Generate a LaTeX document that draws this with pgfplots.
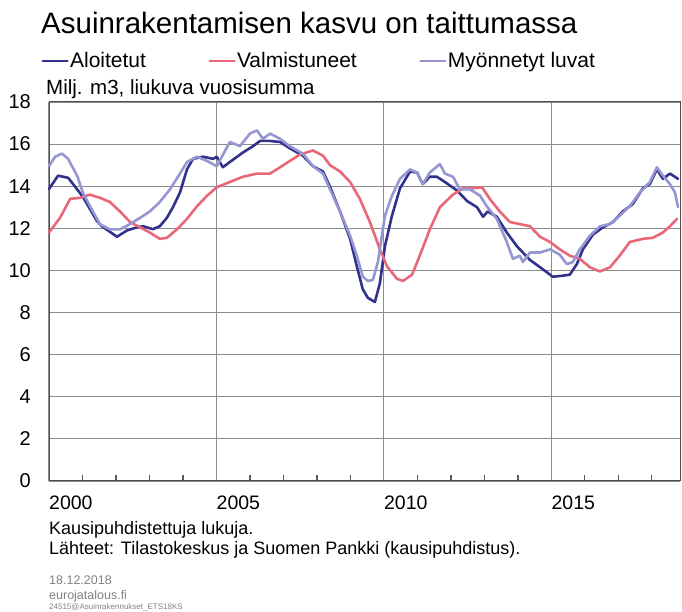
\documentclass[border=0pt]{standalone}
\usepackage{fontspec}
\setmainfont{Liberation Sans}
\usepackage{pgfplots}
\pgfplotsset{compat=1.18}
\definecolor{aloit}{RGB}{50,50,140}
\definecolor{valm}{RGB}{232,104,122}
\definecolor{myon}{RGB}{150,150,210}
\definecolor{gridc}{RGB}{140,140,140}
\definecolor{foot}{RGB}{130,130,130}

\pgfplotstableread{
x y
2000.00 13.87
2000.27 14.5
2000.57 14.4
2000.72 14.1
2001.01 13.5
2001.43 12.35
2001.58 12.1
2002.03 11.6
2002.33 11.9
2002.63 12.05
2002.81 12.1
2003.10 11.96
2003.31 12.1
2003.52 12.5
2003.70 13.0
2003.91 13.7
2004.12 14.8
2004.30 15.3
2004.60 15.4
2004.90 15.3
2005.01 15.4
2005.19 14.9
2005.40 15.15
2005.79 15.6
2006.09 15.9
2006.30 16.15
2006.60 16.15
2006.90 16.1
2007.19 15.8
2007.58 15.45
2007.88 14.95
2008.18 14.7
2008.39 13.97
2008.69 12.8
2008.99 11.5
2009.19 10.2
2009.37 9.1
2009.52 8.7
2009.73 8.5
2009.88 9.4
2010.03 11.15
2010.24 12.6
2010.48 13.9
2010.78 14.7
2010.99 14.65
2011.16 14.1
2011.37 14.45
2011.58 14.45
2011.82 14.2
2012.18 13.8
2012.48 13.3
2012.78 13.0
2012.96 12.55
2013.10 12.8
2013.37 12.55
2013.67 11.8
2013.97 11.15
2014.36 10.5
2014.75 10.05
2015.04 9.7
2015.34 9.75
2015.55 9.8
2015.76 10.3
2015.94 11.0
2016.24 11.7
2016.54 12.05
2016.84 12.3
2017.13 12.8
2017.43 13.15
2017.73 13.9
2017.94 14.1
2018.15 14.8
2018.33 14.35
2018.54 14.6
2018.78 14.35
}\aloitetut

\pgfplotstableread{
x y
2000.00 11.8
2000.33 12.5
2000.63 13.4
2000.93 13.45
2001.22 13.6
2001.52 13.45
2001.82 13.25
2002.12 12.8
2002.42 12.3
2002.72 12.05
2003.01 11.8
2003.31 11.5
2003.52 11.55
2003.82 11.95
2004.12 12.45
2004.42 13.05
2004.72 13.55
2005.01 13.95
2005.40 14.2
2005.79 14.45
2006.21 14.6
2006.60 14.6
2006.90 14.9
2007.19 15.2
2007.49 15.5
2007.88 15.7
2008.18 15.45
2008.39 15.0
2008.69 14.7
2008.99 14.2
2009.28 13.4
2009.58 12.3
2009.88 11.0
2010.09 10.2
2010.39 9.6
2010.57 9.5
2010.84 9.8
2011.07 10.7
2011.37 11.95
2011.67 13.0
2012.06 13.6
2012.36 13.9
2012.66 13.9
2012.93 13.95
2013.16 13.4
2013.46 12.8
2013.76 12.3
2014.06 12.2
2014.36 12.1
2014.66 11.6
2014.96 11.35
2015.25 11.0
2015.55 10.7
2015.85 10.55
2016.15 10.15
2016.45 9.95
2016.75 10.15
2017.04 10.7
2017.34 11.35
2017.73 11.5
2018.03 11.55
2018.33 11.8
2018.54 12.1
2018.75 12.45
}\valmistuneet

\pgfplotstableread{
x y
2000.00 14.95
2000.18 15.4
2000.39 15.55
2000.57 15.3
2000.84 14.5
2001.01 13.7
2001.31 12.8
2001.52 12.2
2001.82 11.95
2002.12 11.95
2002.42 12.2
2002.72 12.5
2003.01 12.8
2003.31 13.25
2003.61 13.85
2003.91 14.6
2004.12 15.15
2004.42 15.4
2004.72 15.2
2005.01 14.95
2005.40 16.1
2005.70 15.9
2006.00 16.5
2006.21 16.65
2006.39 16.25
2006.60 16.5
2006.90 16.25
2007.19 15.9
2007.58 15.55
2007.88 14.95
2008.18 14.6
2008.39 13.85
2008.69 12.8
2008.99 11.65
2009.19 10.7
2009.37 9.7
2009.52 9.5
2009.67 9.55
2009.82 10.4
2010.03 12.6
2010.24 13.55
2010.48 14.35
2010.78 14.8
2010.99 14.65
2011.16 14.1
2011.37 14.65
2011.67 15.05
2011.82 14.6
2012.06 14.45
2012.27 13.85
2012.57 13.85
2012.87 13.55
2013.07 13.05
2013.37 12.45
2013.67 11.35
2013.85 10.55
2014.06 10.7
2014.15 10.4
2014.36 10.85
2014.66 10.85
2014.96 11.0
2015.25 10.75
2015.46 10.3
2015.64 10.4
2015.85 11.0
2016.15 11.65
2016.45 12.1
2016.75 12.2
2017.04 12.6
2017.34 13.05
2017.64 13.7
2017.94 14.2
2018.15 14.9
2018.33 14.5
2018.54 14.1
2018.69 13.7
2018.78 13.0
}\myonnetyt

\begin{document}
\begin{tikzpicture}
\path[use as bounding box] (0pt,0pt) rectangle (682pt,612pt);
\begin{axis}[
  at={(49pt,131pt)}, anchor=south west,
  width=631pt, height=379pt, scale only axis,
  xmin=2000, xmax=2018.84, ymin=0, ymax=18,
  xtick={2000,2005,2010,2015}, xticklabels={2000,2005,2010,2015},
  minor xtick={2001,2002,2003,2004,2006,2007,2008,2009,2011,2012,2013,2014,2016,2017,2018},
  ytick={0,2,4,6,8,10,12,14,16,18},
  xmajorgrids=true, ymajorgrids=true,
  major x grid style={gridc, line width=1.1pt},
  major y grid style={gridc, line width=0.9pt},
  axis line style={black!70, line width=1pt},
  tick align=inside, tick pos=left,
  major tick length=0pt, minor tick length=6pt,
  every minor tick/.style={black!65, line width=1.2pt},
  /pgf/number format/assume math mode=true,
  xticklabel style={anchor=north west, inner sep=0pt, yshift=-15pt, xshift=0pt, font=\fontsize{19.5}{22}\selectfont},
  yticklabel style={anchor=east, inner sep=0pt, xshift=-18pt, font=\fontsize{20}{22}\selectfont},
  legend columns=3,
  legend style={at={(axis description cs:-0.012,1.108)}, anchor=west, draw=none, fill=none, inner sep=0pt,
    font=\fontsize{21}{24}\selectfont,
    /tikz/every even column/.append style={column sep=61pt},
    nodes={inner sep=1.5pt}},
  legend image code/.code={\draw[#1, line width=2pt] (0pt,0pt) -- (25pt,0pt);},
  every axis plot/.append style={line width=2.6pt, line join=round, line cap=round},
  clip=false,
]
\addplot[aloit] table[x=x,y=y] {\aloitetut};
\addlegendentry{Aloitetut}
\addplot[valm] table[x=x,y=y] {\valmistuneet};
\addlegendentry{Valmistuneet}
\addplot[myon] table[x=x,y=y] {\myonnetyt};
\addlegendentry{Myönnetyt luvat}
\end{axis}
\node[anchor=west, inner sep=0pt, font=\fontsize{29.5}{34}\selectfont] at (41pt,589pt) {Asuinrakentamisen kasvu on taittumassa};
\node[anchor=west, inner sep=0pt, font=\fontsize{20.5}{24}\selectfont] at (46pt,523pt) {Milj. m3, liukuva vuosisumma};
\node[anchor=west, inner sep=0pt, font=\fontsize{18}{21}\selectfont] at (49pt,82pt) {Kausipuhdistettuja lukuja.};
\node[anchor=west, inner sep=0pt, font=\fontsize{18}{21}\selectfont] at (49pt,62pt) {Lähteet: Tilastokeskus ja Suomen Pankki (kausipuhdistus).};
\node[anchor=west, inner sep=0pt, text=foot, font=\fontsize{12.5}{14}\selectfont] at (49pt,32pt) {18.12.2018};
\node[anchor=west, inner sep=0pt, text=foot, font=\fontsize{12.5}{14}\selectfont] at (49pt,16pt) {eurojatalous.fi};
\node[anchor=west, inner sep=0pt, text=foot, font=\fontsize{8}{9}\selectfont] at (49pt,5pt) {24515@Asuinrakennukset\_ETS18KS};
\end{tikzpicture}
\end{document}
